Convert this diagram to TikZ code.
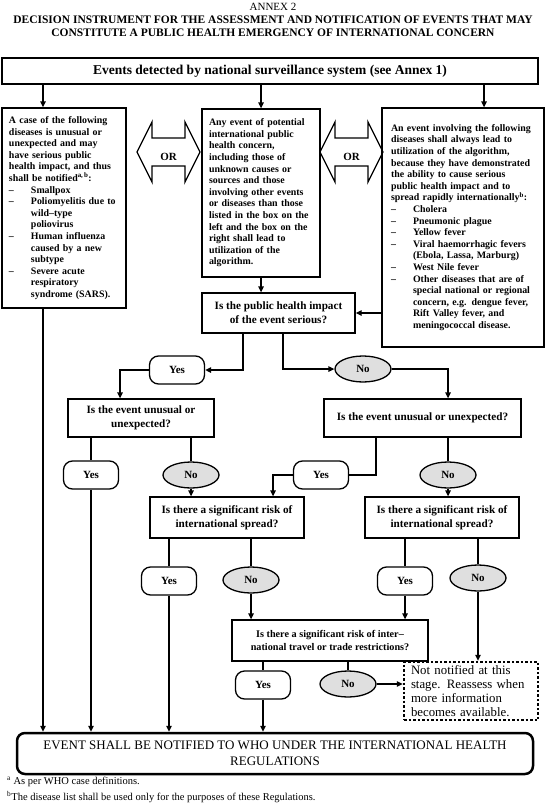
\documentclass[tikz,border=0pt]{standalone}
\usepackage{fontspec}
\setmainfont{Liberation Serif}
\usetikzlibrary{arrows.meta,shapes.geometric}
\newcommand{\dashitem}{\makebox[22pt][l]{--}}
\newcommand{\contline}{\hspace*{22pt}}
\tikzset{
	textbox/.style={draw,line width=1.3pt,inner xsep=7pt,inner ysep=0pt,align=left,font=\bfseries\fontsize{9.9}{11.6}\selectfont},
	qbox/.style={draw,line width=1.3pt,inner sep=0pt,align=center,font=\bfseries\fontsize{11.2}{14}\selectfont},
	yesnode/.style={draw,line width=1.3pt,fill=white,rounded corners=9pt,minimum width=55pt,minimum height=28pt,inner sep=0pt,font=\bfseries\fontsize{11}{13}\selectfont},
	nonode/.style={draw,ellipse,line width=1.3pt,fill=gray!25,minimum width=56pt,minimum height=26pt,inner sep=0pt,font=\bfseries\fontsize{11}{13}\selectfont},
	link/.style={line width=1.3pt},
	arr/.style={line width=1.3pt,-{Triangle[length=6pt,width=5.5pt]}},
}
\begin{document}
\begin{tikzpicture}[x=1pt,y=-1pt]
	\useasboundingbox (0,0) rectangle (546,808);
	\node[font=\fontsize{11}{12}\selectfont] (annex) at (273,7) {ANNEX 2};
	\node[font=\bfseries\fontsize{11.5}{12.5}\selectfont,align=center] (title) at (273,26) {DECISION INSTRUMENT FOR THE ASSESSMENT AND NOTIFICATION OF EVENTS THAT MAY\\CONSTITUTE A PUBLIC HEALTH EMERGENCY OF INTERNATIONAL CONCERN};
	\node[draw,line width=2pt,minimum width=536pt,minimum height=26pt,font=\bfseries\fontsize{13.5}{15}\selectfont] (detect) at (270,71) {Events detected by national surveillance system (see Annex 1)};

	\node[textbox,text width=110pt,minimum height=200pt] (lbox) at (64,208) {A case of the following\\diseases is unusual or\\unexpected and may\\have serious public\\health impact, and thus\\shall be notified\textsuperscript{a,\,b}:\\
		\dashitem Smallpox\\
		\dashitem Poliomyelitis due to\\\contline wild--type\\\contline poliovirus\\
		\dashitem Human influenza\\\contline caused by a new\\\contline subtype\\
		\dashitem Severe acute\\\contline respiratory\\\contline syndrome (SARS).};
	\node[textbox,text width=104pt,minimum height=168pt] (cbox) at (261,193) {Any event of potential\\international public\\health concern,\\including those of\\unknown causes or\\sources and those\\involving other events\\or diseases than those\\listed in the box on the\\left and the box on the\\right shall lead to\\utilization of the\\algorithm.};
	\node[textbox,inner xsep=9pt,text width=144pt,minimum height=239pt] (rbox) at (463,227.5) {An event involving the following\\diseases shall always lead to\\utilization of the algorithm,\\because they have demonstrated\\the ability to cause serious\\public health impact and to\\spread rapidly internationally\textsuperscript{b}:\\
		\dashitem Cholera\\
		\dashitem Pneumonic plague\\
		\dashitem Yellow fever\\
		\dashitem Viral haemorrhagic fevers\\\contline (Ebola, Lassa, Marburg)\\
		\dashitem West Nile fever\\
		\dashitem Other diseases that are of\\\contline special national or regional\\\contline concern, e.g. dengue fever,\\\contline Rift Valley fever, and\\\contline meningococcal disease.\\[6pt]};

	\foreach \x in {137,320} {
		\draw[line width=1.3pt] (\x,152) -- ++(15,-30) -- ++(0,16) -- ++(33,0) -- ++(0,-16) -- ++(15,30) -- ++(-15,30) -- ++(0,-16) -- ++(-33,0) -- ++(0,16) -- cycle;
		\node[font=\bfseries\fontsize{11}{13}\selectfont] (or\x) at (\x+31.5,157) {OR};
	}

	\node[qbox,minimum width=153pt,minimum height=40pt] (impact) at (278.5,313) {Is the public health impact\\of the event serious?};
	\node[yesnode] (yesa) at (177,370) {Yes};
	\node[nonode] (noa) at (363,369) {No};
	\node[qbox,minimum width=146pt,minimum height=38pt] (unusl) at (141,418) {Is the event unusual or\\unexpected?};
	\node[qbox,minimum width=197pt,minimum height=38pt] (unusr) at (422.5,418) {Is the event unusual or unexpected?};
	\node[yesnode] (yesbl) at (91,475) {Yes};
	\node[nonode] (nobl) at (191,475) {No};
	\node[yesnode] (yesbr) at (321,475) {Yes};
	\node[nonode] (nobr) at (448,475) {No};
	\node[qbox,minimum width=154pt,minimum height=41pt] (spreadl) at (227,517.5) {Is there a significant risk of\\international spread?};
	\node[qbox,minimum width=154pt,minimum height=41pt] (spreadr) at (442,517.5) {Is there a significant risk of\\international spread?};
	\node[yesnode] (yescl) at (169,581) {Yes};
	\node[nonode] (nocl) at (251,580) {No};
	\node[yesnode] (yescr) at (405,581) {Yes};
	\node[nonode] (nocr) at (478,578) {No};
	\node[qbox,minimum width=196pt,minimum height=41pt,font=\bfseries\fontsize{10.2}{13}\selectfont] (trade) at (330,640.5) {Is there a significant risk of inter--\\national travel or trade restrictions?};
	\node[yesnode] (yesd) at (263,685) {Yes};
	\node[nonode] (nod) at (348,684) {No};
	\node[draw,line width=2.5pt,dash pattern=on 2.5pt off 2pt,inner xsep=7pt,inner ysep=0pt,text width=120pt,minimum height=58pt,align=left,font=\fontsize{12.8}{14}\selectfont] (wait) at (471,691) {Not notified at this\\stage. Reassess when\\more information\\becomes available.};
	\node[draw,line width=2.5pt,rounded corners=8pt,minimum width=516pt,minimum height=41pt,inner sep=0pt,align=center,font=\fontsize{13}{16}\selectfont] (notify) at (275,753.5) {EVENT SHALL BE NOTIFIED TO WHO UNDER THE INTERNATIONAL HEALTH\\REGULATIONS};
	\node[anchor=west,inner sep=0pt,font=\fontsize{10.5}{12}\selectfont] (fna) at (7,782) {\textsuperscript{a} As per WHO case definitions.};
	\node[anchor=west,inner sep=0pt,font=\fontsize{10.5}{12}\selectfont] (fnb) at (7,797) {\textsuperscript{b}The disease list shall be used only for the purposes of these Regulations.};

	\coordinate (la) at (43,0);
	\coordinate (lr) at (484,0);
	\coordinate (lqa) at (243,0);
	\coordinate (lqb) at (283,0);
	\coordinate (lya) at (120,0);
	\coordinate (lyb) at (376,0);
	\coordinate (lyc) at (273,0);

	\draw[arr] (detect.south -| la) -- (lbox.north -| la);
	\draw[arr] (detect.south -| cbox.north) -- (cbox.north);
	\draw[arr] (detect.south -| lr) -- (rbox.north -| lr);
	\draw[arr] (lbox.south -| la) -- (notify.north -| la);
	\draw[arr] (cbox.south) -- (cbox.south |- impact.north);
	\draw[arr] (rbox.west |- impact.east) -- (impact.east);
	\draw[arr] (impact.south -| lqa) |- (yesa.east);
	\draw[arr] (impact.south -| lqb) |- (noa.west);
	\draw[arr] (yesa.west) -| (unusl.north -| lya);
	\draw[arr] (noa.east) -| (unusr.north -| nobr);
	\draw[link] (unusl.south -| yesbl) -- (yesbl.north);
	\draw[arr] (yesbl.south) -- (yesbl.south |- notify.north);
	\draw[link] (unusl.south -| nobl) -- (nobl.north);
	\draw[arr] (nobl.south) -- (nobl.south |- spreadl.north);
	\draw[link] (unusr.south -| lyb) |- (yesbr.east);
	\draw[arr] (yesbr.west) -| (spreadl.north -| lyc);
	\draw[link] (unusr.south -| nobr) -- (nobr.north);
	\draw[arr] (nobr.south) -- (nobr.south |- spreadr.north);
	\draw[link] (spreadl.south -| yescl) -- (yescl.north);
	\draw[arr] (yescl.south) -- (yescl.south |- notify.north);
	\draw[link] (spreadl.south -| nocl) -- (nocl.north);
	\draw[arr] (nocl.south) -- (nocl.south |- trade.north);
	\draw[link] (spreadr.south -| yescr) -- (yescr.north);
	\draw[arr] (yescr.south) -- (yescr.south |- trade.north);
	\draw[link] (spreadr.south -| nocr) -- (nocr.north);
	\draw[arr] (nocr.south) -- (nocr.south |- wait.north);
	\draw[link] (trade.south -| yesd) -- (yesd.north);
	\draw[arr] (yesd.south) -- (yesd.south |- notify.north);
	\draw[link] (trade.south -| nod) -- (nod.north);
	\draw[arr] (nod.east) -- (nod.east -| wait.west);
\end{tikzpicture}
\end{document}
